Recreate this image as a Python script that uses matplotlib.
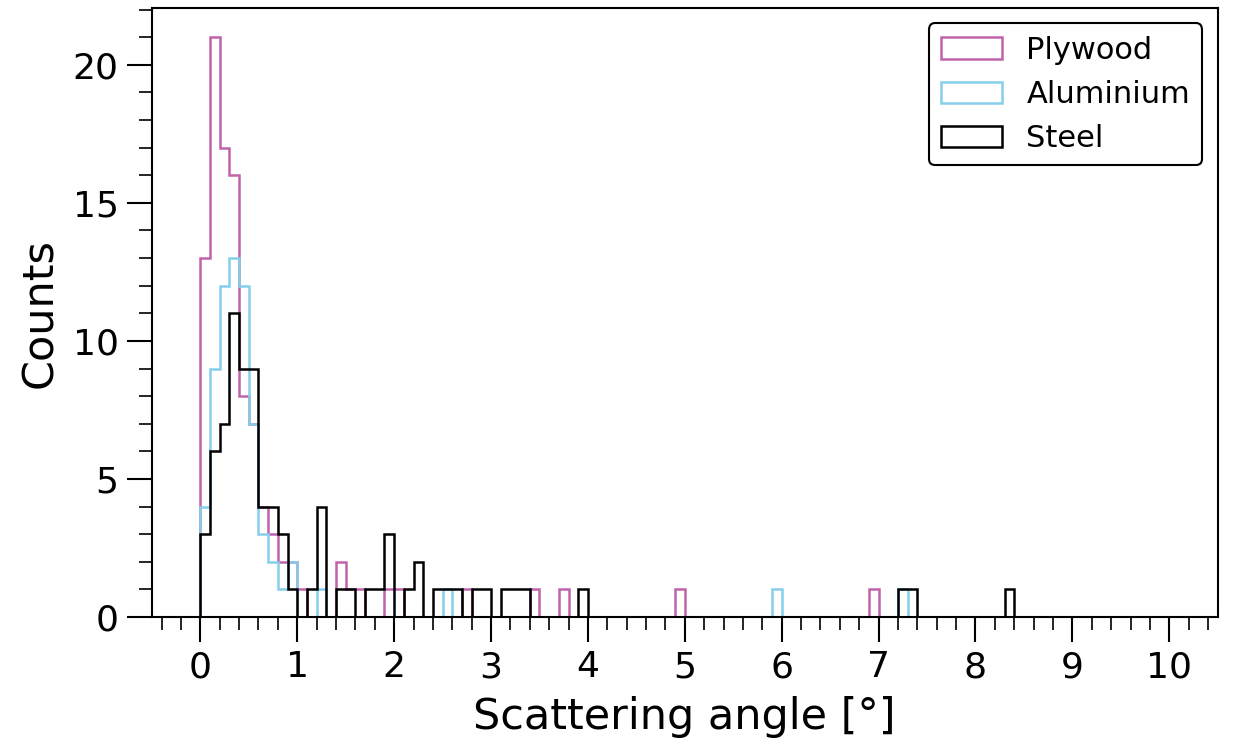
import matplotlib
matplotlib.use("Agg")
import matplotlib.pyplot as plt
import numpy as np
from matplotlib.ticker import MultipleLocator

# bin lower edges (width 0.1 deg) and counts, only non-empty bins
plywood_bins = [0.0, 0.1, 0.2, 0.3, 0.4, 0.5, 0.6, 0.7, 0.8, 0.9, 1.0,
                1.4, 1.5, 1.6, 1.9, 2.0, 2.7, 3.4, 3.7, 4.9, 6.9]
plywood_counts = [13, 21, 17, 16, 8, 7, 4, 3, 2, 2, 1,
                  2, 1, 1, 1, 1, 1, 1, 1, 1, 1]

aluminium_bins = [0.0, 0.1, 0.2, 0.3, 0.4, 0.5, 0.6, 0.7, 0.8, 0.9,
                  1.2, 2.5, 5.9, 7.2]
aluminium_counts = [4, 9, 12, 13, 12, 7, 3, 2, 1, 2,
                    1, 1, 1, 1]

steel_bins = [0.0, 0.1, 0.2, 0.3, 0.4, 0.5, 0.6, 0.7, 0.8, 0.9,
              1.1, 1.2, 1.4, 1.5, 1.7, 1.8, 1.9, 2.1, 2.2, 2.4, 2.5, 2.6,
              2.8, 2.9, 3.1, 3.2, 3.3, 3.9, 7.2, 7.3, 8.3]
steel_counts = [3, 6, 7, 11, 9, 9, 4, 4, 3, 1,
                1, 4, 1, 1, 1, 1, 3, 1, 2, 1, 1, 1,
                1, 1, 1, 1, 1, 1, 1, 1, 1]

edges = np.linspace(0, 10, 101)


def full_counts(bins, counts):
    out = np.zeros(len(edges) - 1)
    for b, c in zip(bins, counts):
        out[int(round(b * 10))] = c
    return out


series = [
    ("Plywood", plywood_bins, plywood_counts, "#c063aa"),
    ("Aluminium", aluminium_bins, aluminium_counts, "#87ceeb"),
    ("Steel", steel_bins, steel_counts, "black"),
]

fig = plt.figure(figsize=(12.35, 7.39), dpi=100)
ax = fig.add_axes([0.123, 0.165, 0.863, 0.824])

for name, b, c, col in series:
    ax.hist(edges[:-1] + 0.05, bins=edges, weights=full_counts(b, c),
            histtype="step", color=col, linewidth=1.8, label=name)

ax.xaxis.set_major_locator(MultipleLocator(1))
ax.xaxis.set_minor_locator(MultipleLocator(0.2))
ax.yaxis.set_major_locator(MultipleLocator(5))
ax.yaxis.set_minor_locator(MultipleLocator(1))

ax.tick_params(which="major", direction="out", length=18, width=1.5,
               labelsize=26, pad=6)
ax.tick_params(which="minor", direction="out", length=9.5, width=1.2)
for s in ax.spines.values():
    s.set_linewidth(1.5)

ax.set_xlabel("Scattering angle [°]", fontsize=31, labelpad=8)
ax.set_ylabel("Counts", fontsize=31, labelpad=8)

leg = ax.legend(loc="upper right", fontsize=22, framealpha=1,
                edgecolor="black", fancybox=True)
leg.get_frame().set_linewidth(1.5)

fig.savefig("out.png", dpi=100)
